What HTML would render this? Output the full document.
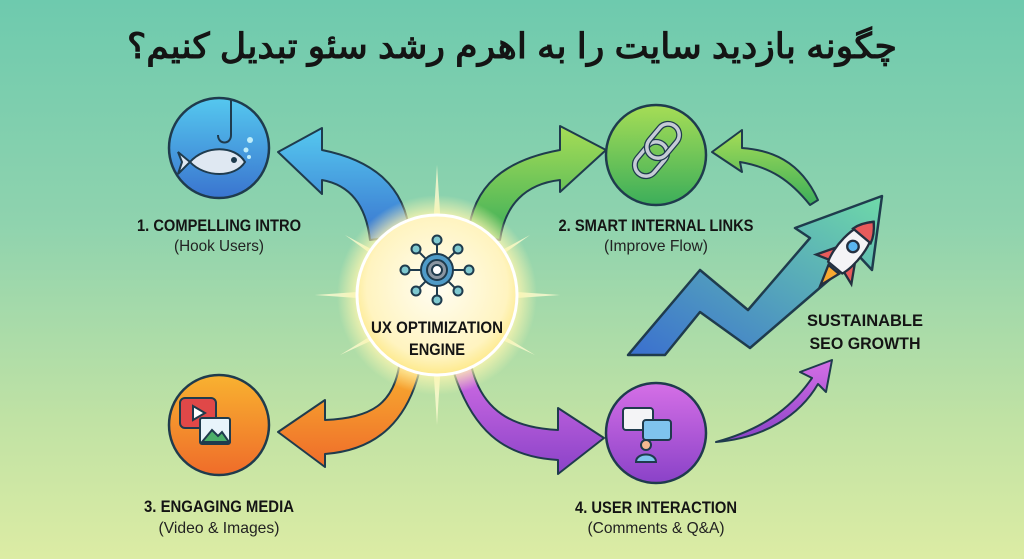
<!DOCTYPE html>
<html><head><meta charset="utf-8">
<style>
html,body{margin:0;padding:0;width:1024px;height:559px;overflow:hidden}
body{background:linear-gradient(180deg,#6ecaae 0%,#8fd3ae 40%,#c0e2a4 75%,#dcecA4 100%)}
svg{position:absolute;left:0;top:0}
.t{font-family:"Liberation Sans Narrow","Liberation Sans",sans-serif;font-weight:bold;fill:#141414;font-size:17px}
.s{font-family:"Liberation Sans Narrow","Liberation Sans",sans-serif;fill:#222;font-size:16px}
</style></head><body>
<svg width="1024" height="559" viewBox="0 0 1024 559">
<defs>
<radialGradient id="glow" cx="0.5" cy="0.5" r="0.5">
<stop offset="0.55" stop-color="#fffbe0"/><stop offset="0.8" stop-color="#fff6b0" stop-opacity="0.8"/><stop offset="1" stop-color="#fff6b0" stop-opacity="0"/></radialGradient>
<radialGradient id="core" cx="0.5" cy="0.45" r="0.55"><stop offset="0" stop-color="#fffdf2"/><stop offset="0.8" stop-color="#fff4c0"/><stop offset="1" stop-color="#fde98a"/></radialGradient>
<linearGradient id="bl" x1="0" y1="0" x2="0" y2="1"><stop offset="0" stop-color="#55c8ef"/><stop offset="1" stop-color="#3a74cf"/></linearGradient>
<linearGradient id="gr" x1="0" y1="0" x2="0" y2="1"><stop offset="0" stop-color="#a6dd56"/><stop offset="1" stop-color="#3cae5a"/></linearGradient>
<linearGradient id="or" x1="0" y1="0" x2="0" y2="1"><stop offset="0" stop-color="#f8b230"/><stop offset="1" stop-color="#ef6c2a"/></linearGradient>
<linearGradient id="pu" x1="0" y1="0" x2="0" y2="1"><stop offset="0" stop-color="#d56fe6"/><stop offset="1" stop-color="#8a42c8"/></linearGradient>
<linearGradient id="zz" x1="0" y1="1" x2="1" y2="0"><stop offset="0" stop-color="#3a6fcf"/><stop offset="1" stop-color="#6fd9a8"/></linearGradient>
</defs>

<text x="512" y="58" text-anchor="middle" font-family="'Liberation Sans','Noto Sans CJK SC',sans-serif" font-weight="bold" font-size="35" fill="#141414" direction="rtl" textLength="770" lengthAdjust="spacingAndGlyphs">چگونه بازدید سایت را به اهرم رشد سئو تبدیل کنیم؟</text>

<g fill="#fffbd0" opacity="0.8">
<polygon points="437,165 443,260 431,260"/><polygon points="437,425 443,330 431,330"/>
<polygon points="315,295 400,289 400,301"/><polygon points="560,295 475,289 475,301"/>
<polygon points="345,235 410,270 404,278"/><polygon points="530,235 465,270 470,278"/>
<polygon points="340,355 405,315 410,323"/><polygon points="535,355 470,315 465,323"/>
</g>

<g stroke="#1f3b4d" stroke-width="2" stroke-linejoin="round">
<path d="M410,235 C405,185 372,160 322,150 L322,128 L278,152 L322,194 L322,180 C350,185 366,205 370,240 Z" fill="url(#bl)"/>
<path d="M468,235 C473,185 505,160 560,150 L560,126 L606,150 L560,192 L560,180 C525,184 505,205 500,240 Z" fill="url(#gr)"/>
<path d="M400,360 C395,405 370,418 325,420 L325,400 L278,432 L325,467 L325,454 C378,450 410,420 422,360 Z" fill="url(#or)"/>
<path d="M470,360 C480,413 515,428 558,430 L558,408 L604,438 L558,474 L558,460 C505,457 470,432 450,360 Z" fill="url(#pu)"/>
<path d="M818,200 C800,160 770,150 742,148 L742,130 L712,152 L742,172 L740,162 C770,167 790,180 810,205 Z" fill="url(#gr)"/>
<path d="M716,442 C760,430 790,410 812,378 L800,372 L832,360 L826,392 L818,384 C800,415 765,438 716,442 Z" fill="url(#pu)"/>
</g>

<path d="M628,355 L700,270 L748,310 L810,238 L795,228 L882,196 L872,270 L858,255 L750,348 L700,312 L665,355 Z" fill="url(#zz)" stroke="#1f3b4d" stroke-width="2.5" stroke-linejoin="round"/>
<g transform="translate(850,250) rotate(40) scale(1.15)" stroke="#243040" stroke-width="2">
<path d="M-6,22 L0,40 L6,22 Z" fill="#f8a830"/>
<path d="M-10,5 L-20,22 L-8,18 Z" fill="#e85b5b"/><path d="M10,5 L20,22 L8,18 Z" fill="#e85b5b"/>
<path d="M0,-32 C14,-18 12,10 8,20 L-8,20 C-12,10 -14,-18 0,-32 Z" fill="#f4f4f6"/>
<path d="M0,-32 C6,-26 9,-20 10,-16 L-10,-16 C-9,-20 -6,-26 0,-32 Z" fill="#e85b5b"/>
<circle cx="0" cy="-4" r="5" fill="#5ab6f0"/>
</g>

<circle cx="437" cy="295" r="100" fill="url(#glow)"/>
<circle cx="437" cy="295" r="80" fill="url(#core)" stroke="#fff" stroke-width="3"/>
<g stroke="#1f3b4d" stroke-width="2" fill="#7fc9d0">
<g stroke-width="2"><line x1="437" y1="235" x2="437" y2="300"/><line x1="405" y1="270" x2="469" y2="270"/><line x1="415" y1="248" x2="459" y2="292"/><line x1="459" y1="248" x2="415" y2="292"/></g>
<circle cx="437" cy="240" r="4.5"/><circle cx="437" cy="300" r="4.5"/><circle cx="405" cy="270" r="4.5"/><circle cx="469" cy="270" r="4.5"/>
<circle cx="416" cy="249" r="4.5"/><circle cx="458" cy="249" r="4.5"/><circle cx="416" cy="291" r="4.5"/><circle cx="458" cy="291" r="4.5"/>
<circle cx="437" cy="270" r="16" fill="#4f9bc8"/><circle cx="437" cy="270" r="10" fill="#8b96a2"/><circle cx="437" cy="270" r="5" fill="#fff"/>
</g>
<text x="437" y="333" text-anchor="middle" class="t" textLength="132" lengthAdjust="spacingAndGlyphs">UX OPTIMIZATION</text>
<text x="437" y="355" text-anchor="middle" class="t" textLength="56" lengthAdjust="spacingAndGlyphs">ENGINE</text>

<g stroke="#1f3b4d" stroke-width="2.5">
<circle cx="219" cy="148" r="50" fill="url(#bl)"/>
<circle cx="656" cy="155" r="50" fill="url(#gr)"/>
<circle cx="219" cy="425" r="50" fill="url(#or)"/>
<circle cx="656" cy="433" r="50" fill="url(#pu)"/>
</g>
<g stroke="#1f3b4d" stroke-width="2">
<path d="M231,100 L231,135 C231,145 218,145 218,135" fill="none"/>
<path d="M190,162 C205,145 235,145 245,162 C235,178 205,178 190,162 Z M190,162 L178,152 L182,162 L178,174 Z" fill="#dfe8f2"/>
<circle cx="234" cy="160" r="2" fill="#1f3b4d"/>
</g>
<g fill="#bfeefa"><circle cx="250" cy="140" r="3"/><circle cx="246" cy="150" r="2.5"/><circle cx="249" cy="157" r="2"/></g>
<g fill="none">
<rect x="640" y="140" width="22" height="38" rx="11" transform="rotate(40 651 159)" stroke-width="6" stroke="#1f3b4d"/>
<rect x="640" y="140" width="22" height="38" rx="11" transform="rotate(40 651 159)" stroke-width="3.5" stroke="#c6ccd6"/>
<rect x="652" y="122" width="22" height="38" rx="11" transform="rotate(40 663 141)" stroke-width="6" stroke="#1f3b4d"/>
<rect x="652" y="122" width="22" height="38" rx="11" transform="rotate(40 663 141)" stroke-width="3.5" stroke="#c6ccd6"/>
</g>
<g stroke="#1f3b4d" stroke-width="2">
<rect x="180" y="398" width="36" height="30" rx="5" fill="#e04848"/>
<path d="M193,406 L205,413 L193,420 Z" fill="#fff"/>
<rect x="200" y="418" width="30" height="26" rx="2" fill="#e8f4fb"/>
<path d="M202,442 L212,430 L218,436 L222,432 L229,442 Z" fill="#4caf6a"/>
</g>
<g stroke="#1f3b4d" stroke-width="2">
<rect x="623" y="408" width="30" height="22" rx="3" fill="#f4f4f6"/>
<rect x="643" y="420" width="28" height="20" rx="3" fill="#7fc4ee"/>
<circle cx="646" cy="445" r="5" fill="#f4b990"/>
<path d="M636,462 C636,452 656,452 656,462 Z" fill="#7fc4ee"/>
</g>

<text x="219" y="231" text-anchor="middle" class="t" textLength="164" lengthAdjust="spacingAndGlyphs">1. COMPELLING INTRO</text>
<text x="219" y="251" text-anchor="middle" class="s" textLength="90" lengthAdjust="spacingAndGlyphs">(Hook Users)</text>
<text x="656" y="231" text-anchor="middle" class="t" textLength="195" lengthAdjust="spacingAndGlyphs">2. SMART INTERNAL LINKS</text>
<text x="656" y="251" text-anchor="middle" class="s" textLength="104" lengthAdjust="spacingAndGlyphs">(Improve Flow)</text>
<text x="219" y="512" text-anchor="middle" class="t" textLength="150" lengthAdjust="spacingAndGlyphs">3. ENGAGING MEDIA</text>
<text x="219" y="533" text-anchor="middle" class="s" textLength="121" lengthAdjust="spacingAndGlyphs">(Video &amp; Images)</text>
<text x="656" y="513" text-anchor="middle" class="t" textLength="162" lengthAdjust="spacingAndGlyphs">4. USER INTERACTION</text>
<text x="656" y="533" text-anchor="middle" class="s" textLength="137" lengthAdjust="spacingAndGlyphs">(Comments &amp; Q&amp;A)</text>
<text x="865" y="326" text-anchor="middle" class="t" font-size="18" textLength="116" lengthAdjust="spacingAndGlyphs">SUSTAINABLE</text>
<text x="865" y="349" text-anchor="middle" class="t" font-size="18" textLength="111" lengthAdjust="spacingAndGlyphs">SEO GROWTH</text>
</svg>
</body></html>
